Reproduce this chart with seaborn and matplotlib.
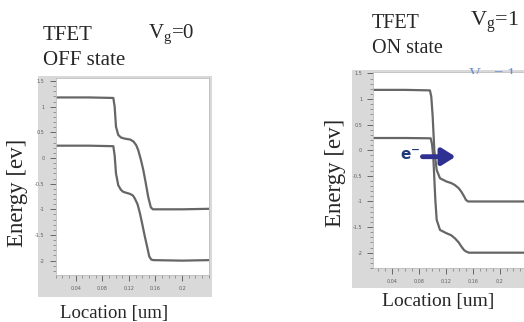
import numpy as np
import pandas as pd
import matplotlib
matplotlib.use("Agg")
import matplotlib.pyplot as plt
from matplotlib.patches import Rectangle
from matplotlib.ticker import MultipleLocator, FixedLocator, FixedFormatter
import seaborn as sns

# band edges (location in um, energy in eV)
off_x_ec = [0.010, 0.060, 0.0966, 0.0986, 0.1006, 0.104, 0.108, 0.113, 0.117, 0.122, 0.127, 0.131, 0.134, 0.138,
            0.1417, 0.145, 0.149, 0.153, 0.156, 0.159, 0.200, 0.241]
off_ec = [1.18, 1.18, 1.17, 1.00, 0.61, 0.45, 0.40, 0.38, 0.37, 0.36, 0.32, 0.25, 0.156, -0.03,
          -0.234, -0.46, -0.754, -0.96, -1.0, -1.0, -1.0, -0.99]
off_x_ev = [0.010, 0.060, 0.0966, 0.0986, 0.1006, 0.104, 0.108, 0.1116, 0.1217, 0.126, 0.129, 0.133, 0.1367,
            0.140, 0.144, 0.148, 0.1507, 0.1537, 0.1567, 0.200, 0.241]
off_ev = [0.24, 0.24, 0.23, 0.05, -0.30, -0.53, -0.62, -0.66, -0.70, -0.73, -0.79, -0.90, -1.08,
          -1.28, -1.53, -1.76, -1.92, -1.98, -1.99, -2.0, -1.99]

on_x_ec = [0.013, 0.060, 0.0965, 0.0985, 0.1006, 0.103, 0.1065, 0.1114, 0.121, 0.128, 0.1335, 0.139, 0.143,
           0.147, 0.1498, 0.153, 0.200, 0.241]
on_ec = [1.18, 1.18, 1.17, 1.05, 0.656, 0.0, -0.385, -0.547, -0.61, -0.64, -0.68, -0.74, -0.81,
         -0.90, -0.97, -1.0, -1.0, -1.0]
on_x_ev = [0.013, 0.060, 0.0976, 0.0996, 0.1015, 0.1045, 0.1065, 0.1114, 0.121, 0.128, 0.1335, 0.139, 0.143,
           0.147, 0.1505, 0.154, 0.200, 0.241]
on_ev = [0.24, 0.24, 0.234, 0.12, -0.125, -0.97, -1.36, -1.556, -1.62, -1.66, -1.72, -1.80, -1.88,
         -1.95, -1.98, -2.0, -2.0, -2.0]

x_ticks = [0.04, 0.08, 0.12, 0.16, 0.2]
x_tick_labels = ["0.04", "0.08", "0.12", "0.16", "0.2"]
y_ticks = [1.5, 1, 0.5, 0, -0.5, -1, -1.5, -2]
y_tick_labels = ["1.5", "1", "0.5", "0", "-0.5", "-1", "-1.5", "-2"]

sns.set_style("white")
plt.rcParams["font.family"] = ["Liberation Serif", "DejaVu Serif"]
plt.rcParams["mathtext.fontset"] = "custom"
plt.rcParams["mathtext.rm"] = "Liberation Serif"

W, H = 524, 322
fig = plt.figure(figsize=(W / 100, H / 100), dpi=100)
fig.patch.set_facecolor("white")


def fx(px):
    return px / W


def fy(py):
    return (H - py) / H


line_col = "#666666"
frame_col = "#d9d9d9"


def panel(box, rect, xlim, ylim, band_sets):
    gray = Rectangle((fx(box[0]), fy(box[3])), fx(box[2] - box[0]), (box[3] - box[1]) / H,
                     transform=fig.transFigure, facecolor=frame_col, edgecolor="none", zorder=-5)
    fig.patches.append(gray)
    ax = fig.add_axes([fx(rect[0]), fy(rect[3]), fx(rect[2] - rect[0]), (rect[3] - rect[1]) / H])
    ax.set_zorder(2)
    ax.set_facecolor("white")
    for xs, ys in band_sets:
        df = pd.DataFrame({"x": xs, "y": ys})
        sns.lineplot(data=df, x="x", y="y", ax=ax, sort=False, estimator=None,
                     color=line_col, linewidth=1.6)
    ax.set_xlim(*xlim)
    ax.set_ylim(*ylim)
    ax.xaxis.set_major_locator(FixedLocator(x_ticks))
    ax.xaxis.set_major_formatter(FixedFormatter(x_tick_labels))
    ax.xaxis.set_minor_locator(MultipleLocator(0.01))
    ax.yaxis.set_major_locator(FixedLocator(y_ticks))
    ax.yaxis.set_major_formatter(FixedFormatter(y_tick_labels))
    ax.yaxis.set_minor_locator(MultipleLocator(0.1))
    ax.tick_params(which="major", direction="out", length=4, width=0.6, color="#555555",
                   labelsize=3.5, labelcolor="#606060", pad=4, left=True, bottom=True)
    ax.tick_params(which="minor", direction="out", length=2, width=0.5, color="#777777",
                   left=True, bottom=True)
    for lab in ax.get_xticklabels() + ax.get_yticklabels():
        lab.set_family("DejaVu Sans")
    for s in ax.spines.values():
        s.set_color("#bdbdbd")
        s.set_linewidth(0.6)
    ax.set_xlabel("")
    ax.set_ylabel("")
    return ax


# OFF state panel
ax1 = panel((38, 76, 212, 297), (55.7, 78.3, 209.3, 275), (0.0099, 0.241), (-2.28, 1.553),
            [(off_x_ec, off_ec), (off_x_ev, off_ev)])
# ON state panel (runs off the right edge)
ax2 = panel((352, 70, 530, 288), (373.3, 71.7, 527, 268.3), (0.0128, 0.24), (-2.305, 1.535),
            [(on_x_ec, on_ec), (on_x_ev, on_ev)])

# electron arrow
ax2.annotate("", xy=(0.1345, -0.125), xytext=(0.0855, -0.125),
             arrowprops=dict(arrowstyle="-|>,head_length=0.8,head_width=0.5", color="#2e3192",
                             lw=3.5, shrinkA=0, shrinkB=0))
ax2.text(0.0672, -0.11, "e$^{\\mathregular{-}}$", color="#1f3a7a", fontsize=11,
         family="DejaVu Sans", weight="bold", ha="center", va="center")

# clipped V_D label peeking at the top of the ON panel
clip_box = Rectangle((fx(352), fy(74)), fx(172), 6 / H, transform=fig.transFigure,
                     facecolor="none", edgecolor="none")
t = fig.text(fx(468), fy(79), "V$_\\mathregular{D}$ = 1", color="#6b8fd0", fontsize=12,
             va="baseline", zorder=5)
t.set_clip_path(clip_box)
t.set_clip_on(True)

# titles
fig.text(fx(43), fy(40), "TFET", fontsize=15, va="baseline")
fig.text(fx(43), fy(65), "OFF state", fontsize=15, va="baseline")
fig.text(fx(148), fy(38.3), "V$_\\mathregular{g}$=0", fontsize=15, va="baseline")
fig.text(fx(371.7), fy(28.3), "TFET", fontsize=14.5, va="baseline")
fig.text(fx(371.7), fy(53.3), "ON state", fontsize=14.5, va="baseline")
fig.text(fx(470), fy(26.7), "V$_\\mathregular{g}$=1", fontsize=16, va="baseline")

# axis titles
fig.text(fx(114), fy(318), "Location [um]", fontsize=13.5, ha="center", va="baseline")
fig.text(fx(438), fy(305.7), "Location [um]", fontsize=14, ha="center", va="baseline")
fig.text(fx(18), fy(193), "Energy [ev]", fontsize=16.5, rotation=90, ha="center", va="center")
fig.text(fx(335.7), fy(173), "Energy [ev]", fontsize=16.5, rotation=90, ha="center", va="center")

fig.savefig("out.png", dpi=100)
